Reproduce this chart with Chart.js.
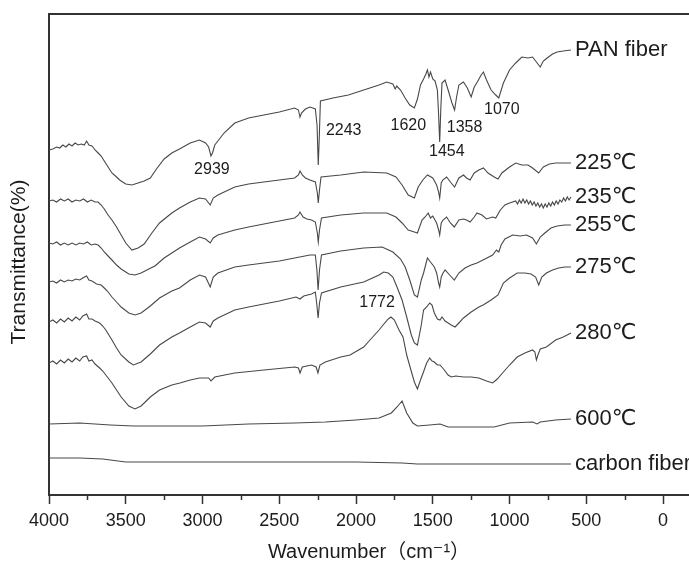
<!DOCTYPE html>
<html>
<head>
<meta charset="utf-8">
<script src="https://cdn.jsdelivr.net/npm/chart.js@4.4.1/dist/chart.umd.min.js"></script>
<style>
  html, body { margin: 0; padding: 0; background: #fff; overflow: hidden; }
  #wrap { width: 689px; height: 566px; }
</style>
</head>
<body>
<div id="wrap"><canvas id="ftir" width="689" height="566"></canvas></div>
<script>
// axis ticks (wavenumber, cm-1)
const wavenumberTicks = [4000, 3500, 3000, 2500, 2000, 1500, 1000, 500, 0];
const minorTicks = [3750, 3250, 2750, 2250, 1750, 1250, 750, 250];

const seriesNames = ['PAN fiber', '225℃', '235℃', '255℃', '275℃', '280℃', '600℃', 'carbon fiber'];
const peakLabels = ['2939', '2243', '1620', '1454', '1358', '1070', '1772'];

// spectra: [wavenumber, transmittance (offset, a.u.)]
const panFiber = [
  [4000,345],[3975,346],[3950,348],[3930,347],[3910,350],[3890,348],[3870,351],[3850,349],[3830,352],[3810,350],
  [3790,351],[3770,350],[3755,354],[3740,350],[3720,349],[3700,345],[3680,342],[3660,339],[3640,334],[3615,328],
  [3590,322],[3560,318],[3540,315],[3500,311],[3460,310],[3420,312],[3380,314],[3340,317],[3300,326],[3250,336],
  [3200,342],[3150,346],[3080,352],[3020,355],[2980,352],[2960,348],[2945,339],[2935,342],[2920,350],[2900,354],
  [2860,362],[2790,372],[2700,377],[2600,380],[2500,383],[2400,387],[2375,385],[2365,378],[2355,382],[2330,386],
  [2300,388],[2265,386],[2254,370],[2246,330],[2240,355],[2232,394],[2150,397],[2050,400],[1950,405],[1850,410],
  [1800,413],[1760,411],[1745,406],[1735,409],[1710,405],[1680,397],[1650,390],[1620,387],[1600,396],[1580,410],
  [1560,416],[1545,421],[1535,425],[1525,418],[1515,423],[1500,416],[1485,414],[1470,405],[1462,380],[1455,353],
  [1448,385],[1440,412],[1420,415],[1400,405],[1375,392],[1358,385],[1345,398],[1330,410],[1300,413],[1275,407],
  [1250,398],[1230,408],[1210,413],[1185,420],[1170,423],[1150,415],[1120,405],[1090,400],[1070,397],[1040,412],
  [1000,425],[960,432],[920,438],[880,437],[850,438],[820,432],[800,428],[780,434],[755,437],[720,441],
  [690,443],[650,444],[600,445]
];
const fiber225 = [
  [4000,294],[3975,295],[3950,293],[3925,296],[3900,294],[3875,296],[3850,293],[3825,295],[3800,294],[3775,296],
  [3750,293],[3725,295],[3700,293],[3680,293],[3660,290],[3640,286],[3615,280],[3590,275],[3560,268],[3530,260],
  [3500,252],[3460,245],[3420,247],[3380,251],[3330,262],[3280,272],[3200,282],[3150,287],[3080,293],[3020,297],
  [2980,296],[2950,290],[2930,297],[2900,300],[2790,308],[2700,311],[2600,313],[2500,315],[2400,317],[2375,320],
  [2365,324],[2350,320],[2330,317],[2300,315],[2265,313],[2252,302],[2246,292],[2238,305],[2228,318],[2100,320],
  [1950,323],[1800,322],[1740,318],[1700,310],[1660,300],[1620,297],[1595,308],[1565,315],[1535,320],[1500,317],
  [1475,310],[1462,303],[1455,297],[1445,312],[1435,315],[1410,318],[1380,312],[1358,308],[1330,317],[1300,320],
  [1280,317],[1257,315],[1230,322],[1200,325],[1170,327],[1140,322],[1100,318],[1075,316],[1050,322],[1000,328],
  [960,332],[920,330],[880,330],[850,327],[810,322],[780,328],[740,331],[700,332],[650,332],[600,332]
];
const fiber235 = [
  [4000,252],[3975,251],[3950,253],[3925,250],[3900,252],[3875,250],[3850,252],[3825,250],[3800,252],[3775,251],
  [3750,253],[3725,250],[3700,251],[3680,250],[3660,247],[3640,243],[3615,239],[3590,235],[3560,230],[3530,226],
  [3480,221],[3440,220],[3400,222],[3350,226],[3310,229],[3250,237],[3150,247],[3080,253],[3020,258],[2980,256],
  [2950,252],[2930,257],[2900,260],[2790,265],[2700,268],[2600,271],[2500,274],[2400,277],[2375,280],[2365,283],
  [2345,278],[2320,276],[2290,275],[2265,273],[2252,262],[2246,253],[2238,265],[2225,277],[2100,280],[1950,282],
  [1800,282],[1740,278],[1700,272],[1660,265],[1620,263],[1600,262],[1570,275],[1550,278],[1530,282],[1515,277],
  [1500,279],[1475,272],[1462,265],[1455,260],[1445,272],[1433,275],[1410,278],[1385,272],[1360,268],[1330,275],
  [1300,276],[1280,275],[1257,273],[1230,278],[1212,282],[1180,280],[1150,276],[1110,278],[1090,277],[1060,285],
  [1030,290],[1000,292],[960,294],[948,291],[936,295],[924,292],[912,296],[900,292],[888,295],[876,291],
  [864,294],[852,290],[840,293],[828,289],[816,292],[804,288],[792,291],[780,287],[768,291],[756,288],
  [744,292],[732,289],[720,293],[708,290],[696,294],[684,291],[672,295],[660,293],[648,297],[636,294],
  [624,298],[612,295],[600,298]
];
const fiber255 = [
  [4000,213],[3975,214],[3950,212],[3925,215],[3900,213],[3875,215],[3850,214],[3825,216],[3800,215],[3780,217],
  [3755,219],[3740,215],[3720,214],[3690,211],[3660,210],[3640,207],[3620,204],[3590,198],[3560,193],[3530,188],
  [3480,182],[3440,180],[3400,182],[3340,189],[3280,197],[3200,204],[3150,207],[3080,215],[3020,220],[2980,218],
  [2950,208],[2930,218],[2900,222],[2790,228],[2700,230],[2600,232],[2500,234],[2400,237],[2300,240],[2265,240],
  [2255,225],[2247,205],[2238,225],[2225,240],[2100,244],[1950,247],[1830,248],[1760,243],[1710,236],[1680,228],
  [1650,215],[1620,200],[1600,198],[1575,215],[1560,222],[1535,237],[1515,233],[1490,228],[1475,222],[1462,212],
  [1455,208],[1445,218],[1433,222],[1420,225],[1390,220],[1360,215],[1330,222],[1290,227],[1250,230],[1212,232],
  [1160,236],[1110,240],[1085,245],[1070,243],[1055,250],[1030,256],[980,260],[930,259],[890,260],[850,257],
  [825,251],[800,258],[770,262],[730,267],[690,269],[640,270],[600,270]
];
const fiber275 = [
  [4000,173],[3975,175],[3950,172],[3925,176],[3900,173],[3875,177],[3850,174],[3825,178],[3800,175],[3780,179],
  [3755,181],[3740,176],[3720,176],[3700,174],[3670,172],[3650,169],[3630,165],[3590,155],[3560,147],[3530,140],
  [3480,133],[3450,130],[3400,133],[3340,141],[3280,150],[3200,158],[3150,162],[3080,168],[3020,173],[2980,172],
  [2950,168],[2930,174],[2900,177],[2790,185],[2700,188],[2600,191],[2500,194],[2391,198],[2365,196],[2340,199],
  [2290,201],[2265,203],[2255,190],[2247,177],[2238,192],[2225,202],[2100,208],[1950,213],[1850,220],[1820,223],
  [1790,222],[1760,218],[1733,208],[1700,195],[1670,178],[1640,160],[1620,152],[1600,150],[1575,170],[1560,185],
  [1540,188],[1520,192],[1505,190],[1490,182],[1470,176],[1453,175],[1440,178],[1420,174],[1400,172],[1380,170],
  [1355,168],[1330,172],[1300,177],[1250,183],[1200,188],[1172,190],[1120,195],[1075,200],[1040,212],[1000,217],
  [950,222],[900,222],[860,221],[830,218],[810,210],[790,218],[760,222],[720,225],[680,227],[640,228],[600,228]
];
const fiber280 = [
  [4000,132],[3975,134],[3950,131],[3925,135],[3900,132],[3875,136],[3850,133],[3825,137],[3800,134],[3780,138],
  [3755,139],[3740,134],[3720,135],[3700,131],[3670,127],[3650,124],[3630,120],[3590,112],[3560,105],[3530,98],
  [3480,89],[3440,86],[3400,89],[3340,98],[3280,105],[3200,110],[3147,112],[3080,115],[3020,117],[2960,117],
  [2945,114],[2920,118],[2790,122],[2600,125],[2400,128],[2375,127],[2365,122],[2350,128],[2290,130],[2260,128],
  [2248,122],[2235,130],[2200,133],[2100,138],[2039,140],[1950,148],[1909,155],[1850,165],[1824,170],[1790,176],
  [1772,178],[1750,175],[1720,165],[1694,158],[1670,140],[1648,128],[1620,113],[1600,106],[1580,115],[1563,122],
  [1540,132],[1520,137],[1505,134],[1490,133],[1470,130],[1453,130],[1430,126],[1400,120],[1380,118],[1350,119],
  [1300,118],[1250,118],[1200,117],[1150,114],[1110,112],[1080,116],[1040,123],[1000,130],[950,138],[900,142],
  [850,145],[835,143],[825,135],[815,140],[800,146],[760,148],[700,155],[650,158],[600,162]
];
const fiber600 = [
  [4000,71],[3800,72],[3600,70],[3450,69],[3200,69],[3000,69],[2700,71],[2400,72],[2200,73],[2000,75],
  [1850,77],[1770,82],[1733,88],[1700,94],[1670,82],[1630,72],[1600,69],[1520,70],[1453,71],[1400,68],
  [1300,68],[1100,68],[1000,72],[850,73],[820,71],[800,73],[700,75],[600,76]
];
const carbonFiber = [
  [4000,37],[3800,37],[3650,36],[3500,33],[3000,33],[2500,33],[2000,33],[1700,32],[1600,31],[1000,31],[600,31]
];

const spectra = [panFiber, fiber225, fiber235, fiber255, fiber275, fiber280, fiber600, carbonFiber];

const FONT = '"Liberation Sans", Arial, "DejaVu Sans", "Noto Sans CJK SC", sans-serif';
const INK = '#1c1c1c';
const AXIS = '#333333';

// offsets of the peak numbers from their peak (dx px, y value)
const peakPlacement = {
  '2939': [0, 325], '2243': [25, 364], '1620': [-6, 369], '1454': [7, 343],
  '1358': [10, 367], '1070': [3, 385], '1772': [-14, 192]
};

const decorPlugin = {
  id: 'decor',
  afterDraw(chart) {
    const { ctx, chartArea, scales } = chart;
    const xs = scales.x, ys = scales.y;
    ctx.save();
    ctx.strokeStyle = AXIS;
    ctx.lineWidth = 2;
    ctx.beginPath();
    ctx.moveTo(chartArea.left - 1, chartArea.top);
    ctx.lineTo(chartArea.right, chartArea.top);
    ctx.stroke();

    // minor ticks
    ctx.lineWidth = 1.5;
    minorTicks.forEach(v => {
      const px = Math.round(xs.getPixelForValue(v)) + 0.5;
      ctx.beginPath();
      ctx.moveTo(px, chartArea.bottom);
      ctx.lineTo(px, chartArea.bottom + 5);
      ctx.stroke();
    });

    // y title, centred a little below the plot middle as in the figure
    ctx.fillStyle = INK;
    ctx.save();
    ctx.translate(19, 262);
    ctx.rotate(-Math.PI / 2);
    ctx.font = '21px ' + FONT;
    ctx.textAlign = 'center';
    ctx.textBaseline = 'middle';
    ctx.fillText('Transmittance(%)', 0, 0);
    ctx.restore();

    // curve names at right end of each spectrum
    ctx.font = '22px ' + FONT;
    ctx.textBaseline = 'middle';
    ctx.textAlign = 'left';
    chart.data.datasets.forEach((ds, i) => {
      const pts = chart.getDatasetMeta(i).data;
      const last = pts[pts.length - 1];
      ctx.fillText(ds.label, last.x + 4, last.y);
    });

    // peak wavenumbers
    ctx.font = '16px ' + FONT;
    ctx.textAlign = 'center';
    peakLabels.forEach(lbl => {
      const [dx, yv] = peakPlacement[lbl];
      ctx.fillText(lbl, xs.getPixelForValue(Number(lbl)) + dx, ys.getPixelForValue(yv));
    });
    ctx.restore();
  }
};

new Chart(document.getElementById('ftir'), {
  type: 'line',
  data: {
    datasets: spectra.map((s, i) => ({
      label: seriesNames[i],
      data: s.map(p => ({ x: p[0], y: p[1] })),
      borderColor: '#484848',
      borderWidth: 1.1,
      pointRadius: 0,
      tension: 0,
      fill: false
    }))
  },
  options: {
    responsive: false,
    animation: false,
    devicePixelRatio: 1,
    layout: { padding: { top: 14, right: 0, bottom: 0, left: 0 } },
    plugins: { legend: { display: false }, tooltip: { enabled: false } },
    scales: {
      x: {
        type: 'linear',
        reverse: true,
        min: -169,
        max: 4000,
        afterBuildTicks: axis => { axis.ticks = wavenumberTicks.map(v => ({ value: v })); },
        afterFit: scale => { scale.height = 71; },
        grid: { drawOnChartArea: false, drawTicks: true, tickLength: 9, tickColor: AXIS, tickWidth: 1.5 },
        border: { display: true, color: AXIS, width: 2 },
        ticks: {
          color: INK,
          font: { family: FONT, size: 18 },
          padding: 6,
          maxRotation: 0,
          autoSkip: false,
          callback: v => String(v)
        },
        title: {
          display: true,
          text: 'Wavenumber（cm⁻¹）',
          color: INK,
          font: { family: FONT, size: 20 },
          padding: { top: 0, bottom: 2 }
        }
      },
      y: {
        min: 0,
        max: 481,
        afterFit: scale => { scale.width = 49; },
        grid: { display: false },
        border: { display: true, color: AXIS, width: 2 },
        ticks: { display: false },
        title: { display: false }
      }
    }
  },
  plugins: [decorPlugin]
});
</script>
</body>
</html>
